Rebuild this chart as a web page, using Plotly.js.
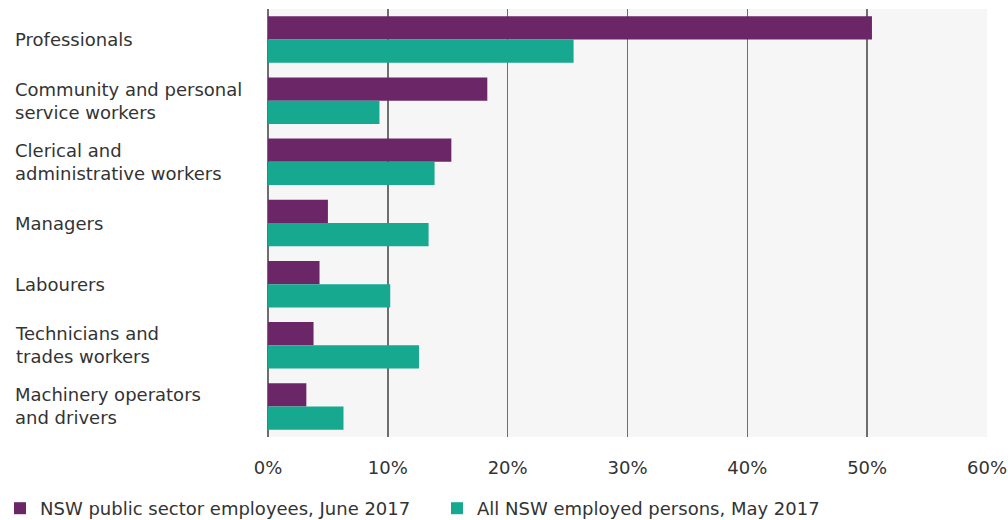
<!DOCTYPE html>
<html>
<head>
<meta charset="utf-8">
<script src="https://cdn.plot.ly/plotly-3.0.1.min.js"></script>
<style>html,body{margin:0;padding:0;background:#fff;}#chart{width:1008px;height:520px;}</style>
</head>
<body>
<div id="chart"></div>
<script>
const categories = ["Professionals", "Community and personal<br>service workers", "Clerical and<br>administrative workers", "Managers", "Labourers", "Technicians and<br>trades workers", "Machinery operators<br>and drivers"];
const publicSector = [50.4, 18.3, 15.3, 5.0, 4.3, 3.8, 3.2];
const allEmployed = [25.5, 9.3, 13.9, 13.4, 10.2, 12.6, 6.3];
const seriesNames = ["NSW public sector employees, June 2017", "All NSW employed persons, May 2017"];
const tickValues = [0, 10, 20, 30, 40, 50, 60];
const tickLabels = ["0%", "10%", "20%", "30%", "40%", "50%", "60%"];

const FONT = "'DejaVu Sans', sans-serif";
const FS = 18;
const PL = 268, PR = 21, PT = 9, PB = 83, W = 1008, H = 520;
const plotW = W - PL - PR;

const traces = [
  {type: "bar", orientation: "h", name: seriesNames[0], y: categories, x: publicSector,
   marker: {color: "#6b2667"}, hoverinfo: "x+y", legend: "legend"},
  {type: "bar", orientation: "h", name: seriesNames[1], y: categories, x: allEmployed,
   marker: {color: "#17a98f"}, hoverinfo: "x+y", legend: "legend2"}
];

const annotations = categories.map(c => ({
  xref: "paper", yref: "y", x: (13 - PL) / plotW, y: c, text: c,
  xanchor: "left", align: "left", showarrow: false,
  font: {family: FONT, size: FS, color: "#333"}
}));

const legendBase = {orientation: "h", xref: "container", yref: "container",
  xanchor: "left", y: 30 / H, yanchor: "top",
  font: {family: FONT, size: FS, color: "#333"}, itemwidth: 30,
  bgcolor: "rgba(0,0,0,0)"};

const layout = {
  width: W, height: H,
  margin: {l: PL, r: PR, t: PT, b: PB},
  paper_bgcolor: "#ffffff",
  plot_bgcolor: "#f6f6f6",
  barmode: "group",
  bargap: 0.24,
  bargroupgap: 0,
  showlegend: true,
  legend: Object.assign({}, legendBase, {x: -2 / W}),
  legend2: Object.assign({}, legendBase, {x: 437 / W}),
  xaxis: {range: [0, 60], tickvals: tickValues, ticktext: tickLabels,
          showgrid: true, gridcolor: "#6e6e6e", gridwidth: 1.5,
          zeroline: true, zerolinecolor: "#6e6e6e", zerolinewidth: 1.5,
          showline: false, ticks: "", ticklen: 0, ticklabelstandoff: 18,
          tickfont: {family: FONT, size: FS, color: "#333"}, fixedrange: true},
  yaxis: {autorange: "reversed", showticklabels: false, showgrid: false, zeroline: false,
          showline: false, ticks: "", fixedrange: true},
  annotations: annotations
};

Plotly.newPlot("chart", traces, layout, {displayModeBar: false, staticPlot: true});
</script>
</body>
</html>
